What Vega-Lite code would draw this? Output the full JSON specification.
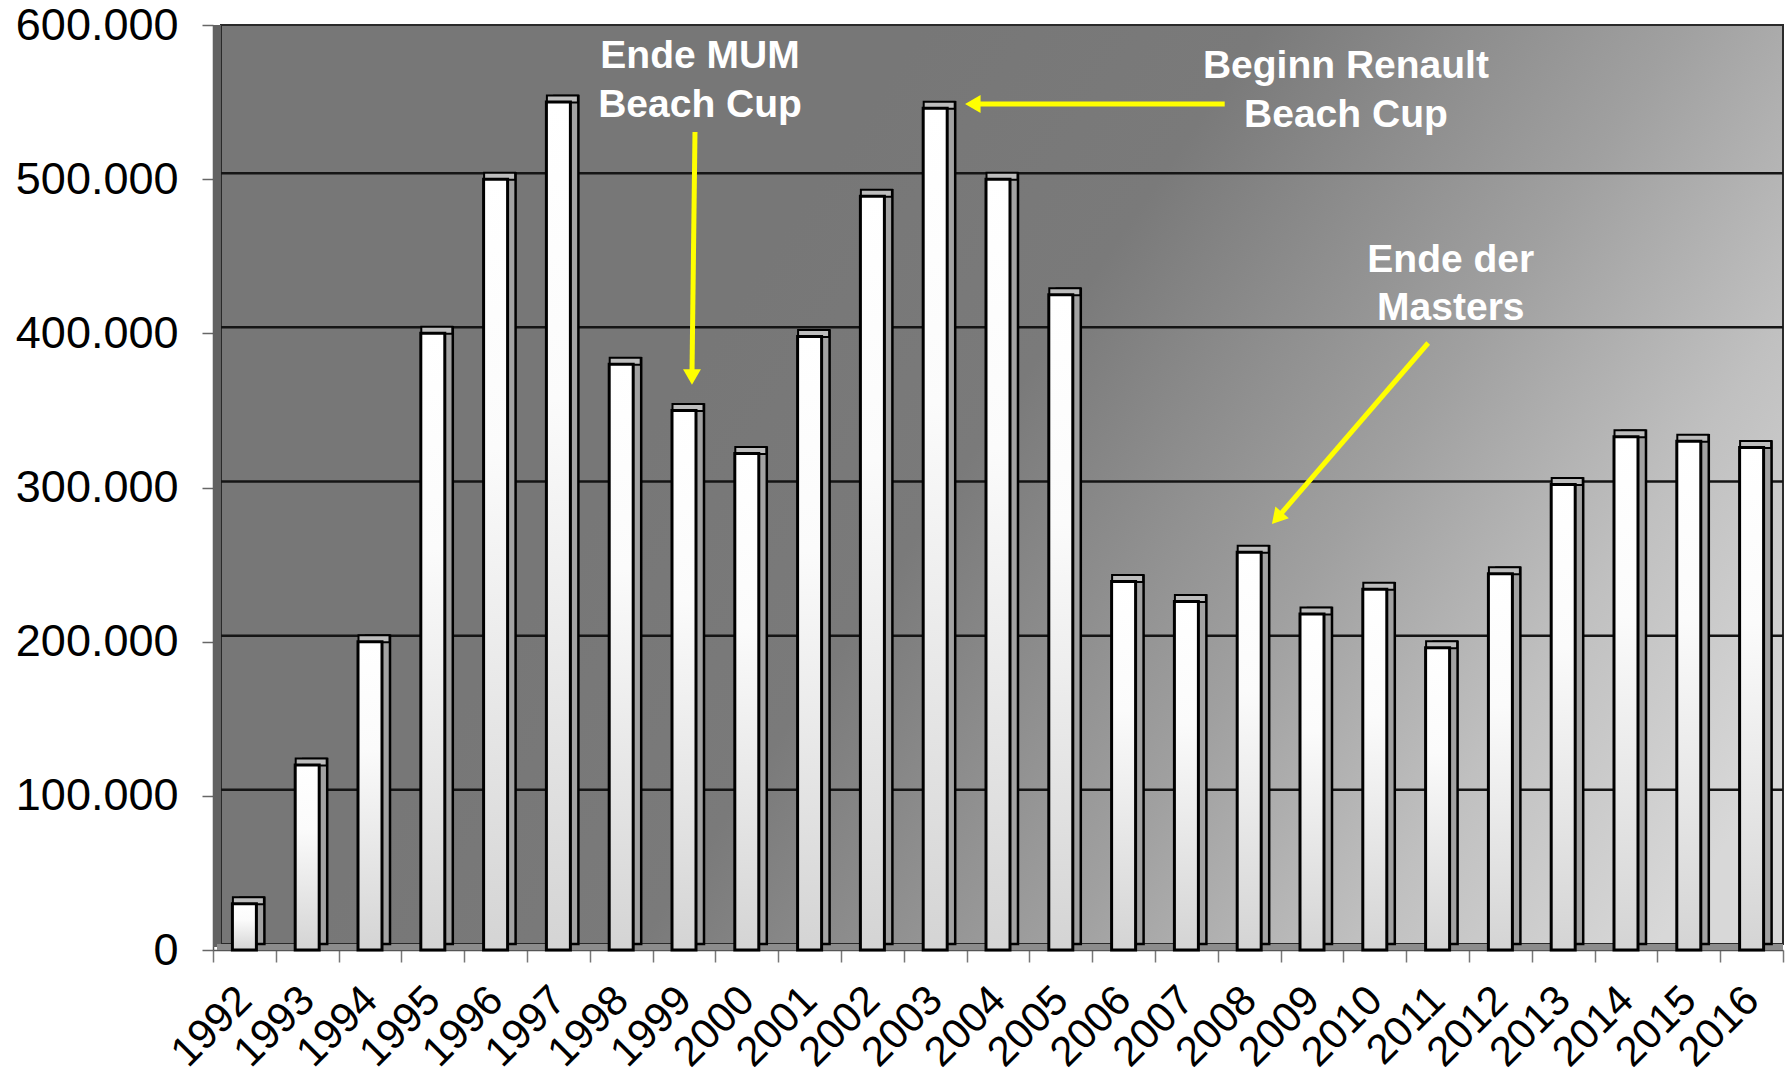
{
  "$schema": "https://vega.github.io/schema/vega-lite/v6.json",
  "width": 1570,
  "height": 925,
  "autosize": {"type": "none"},
  "padding": {"left": 213, "top": 25, "right": 9, "bottom": 126},
  "background": "white",
  "config": {"view": {"stroke": null}},
  "datasets": {
    "years": [
      {"year": "1992", "v": 30000}, {"year": "1993", "v": 120000}, {"year": "1994", "v": 200000},
      {"year": "1995", "v": 400000}, {"year": "1996", "v": 500000}, {"year": "1997", "v": 550000},
      {"year": "1998", "v": 380000}, {"year": "1999", "v": 350000}, {"year": "2000", "v": 322000},
      {"year": "2001", "v": 398000}, {"year": "2002", "v": 489000}, {"year": "2003", "v": 546000},
      {"year": "2004", "v": 500000}, {"year": "2005", "v": 425000}, {"year": "2006", "v": 239000},
      {"year": "2007", "v": 226000}, {"year": "2008", "v": 258000}, {"year": "2009", "v": 218000},
      {"year": "2010", "v": 234000}, {"year": "2011", "v": 196000}, {"year": "2012", "v": 244000},
      {"year": "2013", "v": 302000}, {"year": "2014", "v": 333000}, {"year": "2015", "v": 330000},
      {"year": "2016", "v": 326000}
    ],
    "wall": [{"x0": 0, "x1": 25, "y0": 0, "y1": 600000}],
    "grid": [{"x0": 0, "x1": 25, "v": 100000}, {"x0": 0, "x1": 25, "v": 200000}, {"x0": 0, "x1": 25, "v": 300000}, {"x0": 0, "x1": 25, "v": 400000}, {"x0": 0, "x1": 25, "v": 500000}],
    "notes": [
      {"t": "Ende MUM", "xi": 7.755, "v": 572108},
      {"t": "Beach Cup", "xi": 7.755, "v": 540324},
      {"t": "Beginn Renault", "xi": 18.04, "v": 565622},
      {"t": "Beach Cup", "xi": 18.04, "v": 533838},
      {"t": "Ende der", "xi": 19.71, "v": 439784},
      {"t": "Masters", "xi": 19.71, "v": 408649}
    ],
    "arrows": [
      {"xa": 7.675, "va": 530595, "xb": 7.627, "vb": 373297},
      {"xa": 16.11, "va": 548757, "xb": 12.14, "vb": 548757},
      {"xa": 19.35, "va": 393730, "xb": 16.97, "vb": 281319}
    ],
    "heads": [
      {"xb": 7.627, "vb": 373297, "ang": 180},
      {"xb": 12.14, "vb": 548757, "ang": 270},
      {"xb": 16.97, "vb": 281319, "ang": 221}
    ]
  },
  "layer": [
    {
      "layer": [
        {
          "data": {"name": "wall"},
          "mark": {
            "type": "rect", "xOffset": 8, "yOffset": -6, "stroke": "#2a2a2a", "strokeWidth": 2,
            "fill": {"gradient": "linear", "x1": 0.45, "y1": 0, "x2": 1.2, "y2": 0.3,
              "stops": [
                {"offset": 0, "color": "#777777"},
                {"offset": 0.25, "color": "#7a7a7a"},
                {"offset": 0.56, "color": "#a0a0a0"},
                {"offset": 0.78, "color": "#c0c0c0"},
                {"offset": 1, "color": "#d8d8d8"}
              ]}
          },
          "encoding": {
            "x": {"field": "x0", "type": "quantitative", "scale": {"domain": [0, 25], "nice": false, "zero": false}, "axis": null},
            "x2": {"field": "x1"},
            "y": {"field": "y0", "type": "quantitative", "scale": {"domain": [0, 600000], "nice": false},
              "axis": {"title": null, "values": [0, 100000, 200000, 300000, 400000, 500000, 600000],
                "labelExpr": "replace(format(datum.value, ','), ',', '.')",
                "labelFont": "Liberation Sans", "labelFontSize": 45, "labelColor": "#000000", "labelPadding": 24,
                "tickSize": 11, "tickColor": "#666666", "tickWidth": 1.5, "domainColor": "#555555", "domainWidth": 1.5,
                "grid": false}},
            "y2": {"field": "y1"}
          }
        },
        {
          "data": {"name": "wall"},
          "mark": {"type": "rule", "xOffset": 4, "yOffset": -3, "strokeWidth": 8, "color": "#626262"},
          "encoding": {
            "x": {"field": "x0", "type": "quantitative"},
            "y": {"field": "y0", "type": "quantitative"},
            "y2": {"field": "y1"}
          }
        },
        {
          "data": {"name": "wall"},
          "mark": {"type": "rule", "xOffset": 4, "yOffset": -3, "strokeWidth": 6, "color": "#8c8c8c"},
          "encoding": {
            "x": {"field": "x0", "type": "quantitative"},
            "x2": {"field": "x1"},
            "y": {"field": "y0", "type": "quantitative"}
          }
        },
        {
          "data": {"name": "grid"},
          "mark": {"type": "rule", "xOffset": 8, "yOffset": -6, "strokeWidth": 2.5, "color": "#151515"},
          "encoding": {
            "x": {"field": "x0", "type": "quantitative"},
            "x2": {"field": "x1"},
            "y": {"field": "v", "type": "quantitative"}
          }
        }
      ]
    },
    {
      "layer": [
        {
          "data": {"name": "years"},
          "mark": {"type": "bar", "width": 24, "xOffset": 8, "yOffset": -6, "fill": "#a2a2a2", "stroke": "#000000", "strokeWidth": 2.5},
          "encoding": {
            "x": {"field": "year", "type": "ordinal", "scale": {"paddingInner": 0, "paddingOuter": 0},
              "axis": {"title": null, "orient": "bottom", "labelAngle": -45, "labelAlign": "right", "labelBaseline": "middle",
                "labelFont": "Liberation Sans", "labelFontSize": 42, "labelColor": "#000000", "labelPadding": 31,
                "labelOverlap": false, "tickBand": "extent", "tickSize": 12, "tickColor": "#777777", "tickWidth": 1.5,
                "domainColor": "#555555", "domainWidth": 1.5}},
            "y": {"field": "v", "type": "quantitative"}
          }
        },
        {
          "data": {"name": "years"},
          "mark": {"type": "tick", "thickness": 7, "size": 31, "xOffset": 4, "yOffset": -3, "fill": "#bdbdbd", "stroke": "#000000", "strokeWidth": 2, "opacity": 1},
          "encoding": {
            "x": {"field": "year", "type": "ordinal"},
            "y": {"field": "v", "type": "quantitative"}
          }
        },
        {
          "data": {"name": "years"},
          "mark": {"type": "bar", "width": 24, "stroke": "#000000", "strokeWidth": 3,
            "fill": {"gradient": "linear", "x1": 0, "y1": 0, "x2": 0, "y2": 1,
              "stops": [
                {"offset": 0, "color": "#ffffff"},
                {"offset": 0.35, "color": "#fbfbfb"},
                {"offset": 1, "color": "#d4d4d4"}
              ]}
          },
          "encoding": {
            "x": {"field": "year", "type": "ordinal"},
            "y": {"field": "v", "type": "quantitative"}
          }
        }
      ]
    },
    {
      "layer": [
        {
          "data": {"name": "arrows"},
          "mark": {"type": "rule", "strokeWidth": 5, "color": "#ffff00"},
          "encoding": {
            "x": {"field": "xa", "type": "quantitative", "scale": {"domain": [0, 25], "nice": false, "zero": false}, "axis": null},
            "x2": {"field": "xb"},
            "y": {"field": "va", "type": "quantitative"},
            "y2": {"field": "vb"}
          }
        },
        {
          "data": {"name": "heads"},
          "mark": {"type": "point", "shape": "triangle", "filled": true, "size": 320, "fill": "#ffff00", "opacity": 1, "strokeWidth": 0},
          "encoding": {
            "x": {"field": "xb", "type": "quantitative"},
            "y": {"field": "vb", "type": "quantitative"},
            "angle": {"field": "ang", "type": "quantitative", "scale": null}
          }
        },
        {
          "data": {"name": "notes"},
          "mark": {"type": "text", "font": "Liberation Sans", "fontWeight": "bold", "fontSize": 39, "color": "#ffffff", "align": "center", "baseline": "alphabetic"},
          "encoding": {
            "x": {"field": "xi", "type": "quantitative"},
            "y": {"field": "v", "type": "quantitative"},
            "text": {"field": "t"}
          }
        }
      ]
    }
  ],
  "resolve": {"scale": {"x": "independent"}, "axis": {"y": "shared"}}
}
